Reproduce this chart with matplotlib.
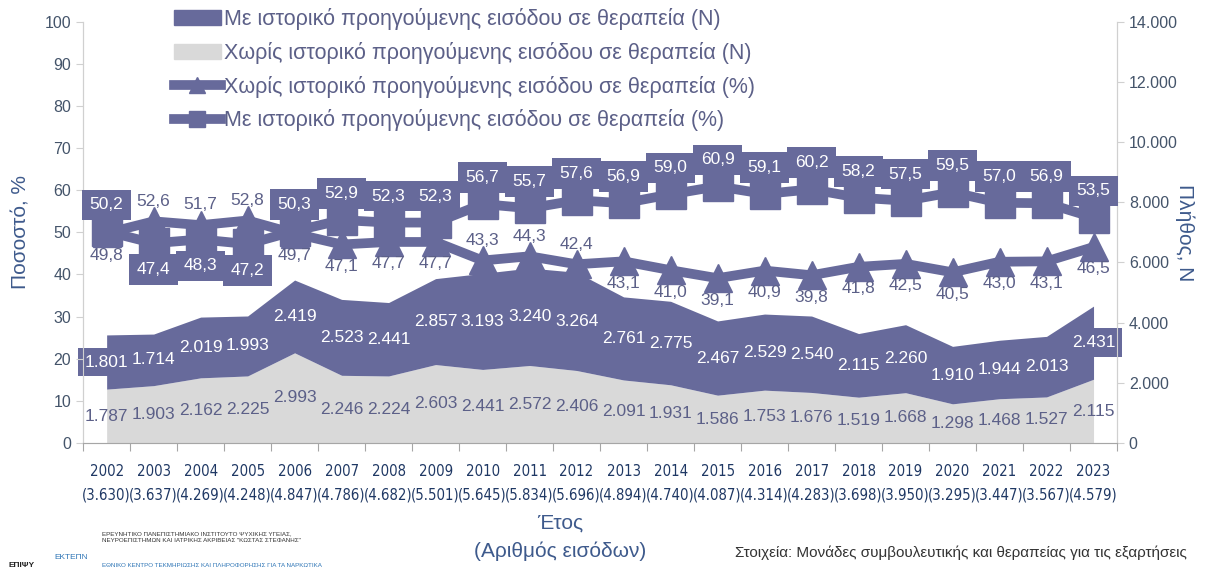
import matplotlib.pyplot as plt
from matplotlib.patches import Patch
from matplotlib.lines import Line2D

years = list(range(2002, 2024))
totals = [3630, 3637, 4269, 4248, 4847, 4786, 4682, 5501, 5645, 5834, 5696,
          4894, 4740, 4087, 4314, 4283, 3698, 3950, 3295, 3447, 3567, 4579]
with_n = [1801, 1714, 2019, 1993, 2419, 2523, 2441, 2857, 3193, 3240, 3264,
          2761, 2775, 2467, 2529, 2540, 2115, 2260, 1910, 1944, 2013, 2431]
without_n = [1787, 1903, 2162, 2225, 2993, 2246, 2224, 2603, 2441, 2572, 2406,
             2091, 1931, 1586, 1753, 1676, 1519, 1668, 1298, 1468, 1527, 2115]
with_pct = [50.2, 47.4, 48.3, 47.2, 50.3, 52.9, 52.3, 52.3, 56.7, 55.7, 57.6,
            56.9, 59.0, 60.9, 59.1, 60.2, 58.2, 57.5, 59.5, 57.0, 56.9, 53.5]
without_pct = [49.8, 52.6, 51.7, 52.8, 49.7, 47.1, 47.7, 47.7, 43.3, 44.3, 42.4,
               43.1, 41.0, 39.1, 40.9, 39.8, 41.8, 42.5, 40.5, 43.0, 43.1, 46.5]

DARK = '#676a9b'
GREY = '#d9d9d9'
TXT = '#5c6088'
AXTXT = '#44546a'
BLUE = '#3e5a8c'


def dec(v):
    return f"{v:.1f}".replace('.', ',')


def thou(n):
    return f"{n:,}".replace(',', '.')


plt.rcParams['font.family'] = ['Liberation Sans', 'DejaVu Sans']

fig = plt.figure(figsize=(12.05, 5.7), dpi=100)
ax = fig.add_axes([0.069, 0.223, 0.858, 0.739])
ax2 = ax.twinx()

x = list(range(len(years)))
stack_top = [a + b for a, b in zip(with_n, without_n)]

# areas on the right axis
ax2.fill_between(x, 0, without_n, color=GREY, lw=0, zorder=1)
ax2.fill_between(x, without_n, stack_top, color=DARK, lw=0, zorder=1)
for i in x:
    ax2.text(i, without_n[i] / 2, thou(without_n[i]), ha='center', va='center',
             fontsize=12.5, color=TXT, zorder=3)
    box = None
    if i in (0, len(x) - 1):
        box = dict(boxstyle='square,pad=0.4', fc=DARK, ec='none')
    ax2.text(i, without_n[i] + with_n[i] / 2, thou(with_n[i]), ha='center',
             va='center', fontsize=12.5, color='white', zorder=3, bbox=box)

# lines on the left axis
ax.set_zorder(ax2.get_zorder() + 1)
ax.patch.set_visible(False)
ax.plot(x, without_pct, color=DARK, lw=7, marker='^', ms=20, zorder=4)
ax.plot(x, with_pct, color=DARK, lw=7, marker='s', ms=21, zorder=4)

for i in x:
    crossed = 1 <= i <= 3
    off = -6.3 if crossed else 6.3
    ax.text(i, with_pct[i] + off, dec(with_pct[i]), ha='center', va='center',
            fontsize=12.5, color='white', zorder=6,
            bbox=dict(boxstyle='square,pad=0.45', fc=DARK, ec='none'))
    up = crossed or 8 <= i <= 10
    off = 4.8 if up else -5.2
    ax.text(i, without_pct[i] + off, dec(without_pct[i]), ha='center',
            va='center', fontsize=12.5, color=TXT, zorder=6)

ax.set_xlim(-0.5, len(years) - 0.5)
ax.set_ylim(0, 100)
ax.set_yticks(range(0, 101, 10))
ax2.set_ylim(0, 14000)
ax2.set_yticks(range(0, 14001, 2000))
ax2.set_yticklabels([thou(v) for v in range(0, 14001, 2000)])

ax.set_xticks([i - 0.5 for i in range(len(years) + 1)])
ax.set_xticklabels([])
ax.set_xticks(x, minor=True)
ax.set_xticklabels([f"{y}\n({thou(t)})" for y, t in zip(years, totals)],
                   minor=True, fontsize=10.7, color='#1f3864',
                   family='DejaVu Sans', fontstretch='condensed',
                   linespacing=1.75)
ax.tick_params(axis='x', which='minor', length=0, pad=15)
ax.tick_params(axis='x', which='major', length=6, color='#a6a6a6')

for a in (ax, ax2):
    for s in a.spines.values():
        s.set_color('#d0d0d0')
    a.spines['top'].set_visible(False)
ax.spines['bottom'].set_color('#a6a6a6')
ax.tick_params(axis='y', colors=AXTXT, labelsize=11.5, length=5,
               color='#d0d0d0')
ax2.tick_params(axis='y', colors=AXTXT, labelsize=11.5, length=5,
                color='#d0d0d0')

ax.set_ylabel('Ποσοστό, %', fontsize=15, color=BLUE, labelpad=10)
ax2.set_ylabel('Πλήθος, N', fontsize=15, color=BLUE, rotation=270,
               labelpad=12)

handles = [
    Patch(color=DARK),
    Patch(color=GREY),
    Line2D([], [], color=DARK, lw=7, marker='^', ms=12),
    Line2D([], [], color=DARK, lw=7, marker='s', ms=12),
]
labels = [
    'Με ιστορικό προηγούμενης εισόδου σε θεραπεία (N)',
    'Χωρίς ιστορικό προηγούμενης εισόδου σε θεραπεία (N)',
    'Χωρίς ιστορικό προηγούμενης εισόδου σε θεραπεία (%)',
    'Με ιστορικό προηγούμενης εισόδου σε θεραπεία (%)',
]
leg = fig.legend(handles, labels, loc='upper left',
                 bbox_to_anchor=(0.128, 1.02), frameon=False, fontsize=15.5,
                 labelcolor=TXT, handlelength=2.2, handletextpad=0.15,
                 labelspacing=0.55)

fig.text(0.465, 0.072, 'Έτος', ha='center', fontsize=15, color=BLUE)
fig.text(0.465, 0.022, '(Αριθμός εισόδων)', ha='center', fontsize=15,
         color=BLUE)
fig.text(0.985, 0.022,
         'Στοιχεία: Μονάδες συμβουλευτικής και θεραπείας για τις εξαρτήσεις',
         ha='right', fontsize=11, color='#333333')

# institute credits at the bottom left
fig.text(0.007, 0.005, 'ΕΠΙΨΥ', fontsize=6, color='#222222',
         fontweight='bold')
fig.text(0.045, 0.02, 'ΕΚΤΕΠΝ', fontsize=6, color='#2e75b6')
fig.text(0.085, 0.05,
         'ΕΡΕΥΝΗΤΙΚΟ ΠΑΝΕΠΙΣΤΗΜΙΑΚΟ ΙΝΣΤΙΤΟΥΤΟ ΨΥΧΙΚΗΣ ΥΓΕΙΑΣ,\n'
         'ΝΕΥΡΟΕΠΙΣΤΗΜΩΝ ΚΑΙ ΙΑΤΡΙΚΗΣ ΑΚΡΙΒΕΙΑΣ "ΚΩΣΤΑΣ ΣΤΕΦΑΝΗΣ"',
         fontsize=4.5, color='#333333', linespacing=1.4)
fig.text(0.085, 0.005,
         'ΕΘΝΙΚΟ ΚΕΝΤΡΟ ΤΕΚΜΗΡΙΩΣΗΣ ΚΑΙ ΠΛΗΡΟΦΟΡΗΣΗΣ ΓΙΑ ΤΑ ΝΑΡΚΩΤΙΚΑ',
         fontsize=4.5, color='#2e75b6')

plt.savefig('out.png', dpi=100)
